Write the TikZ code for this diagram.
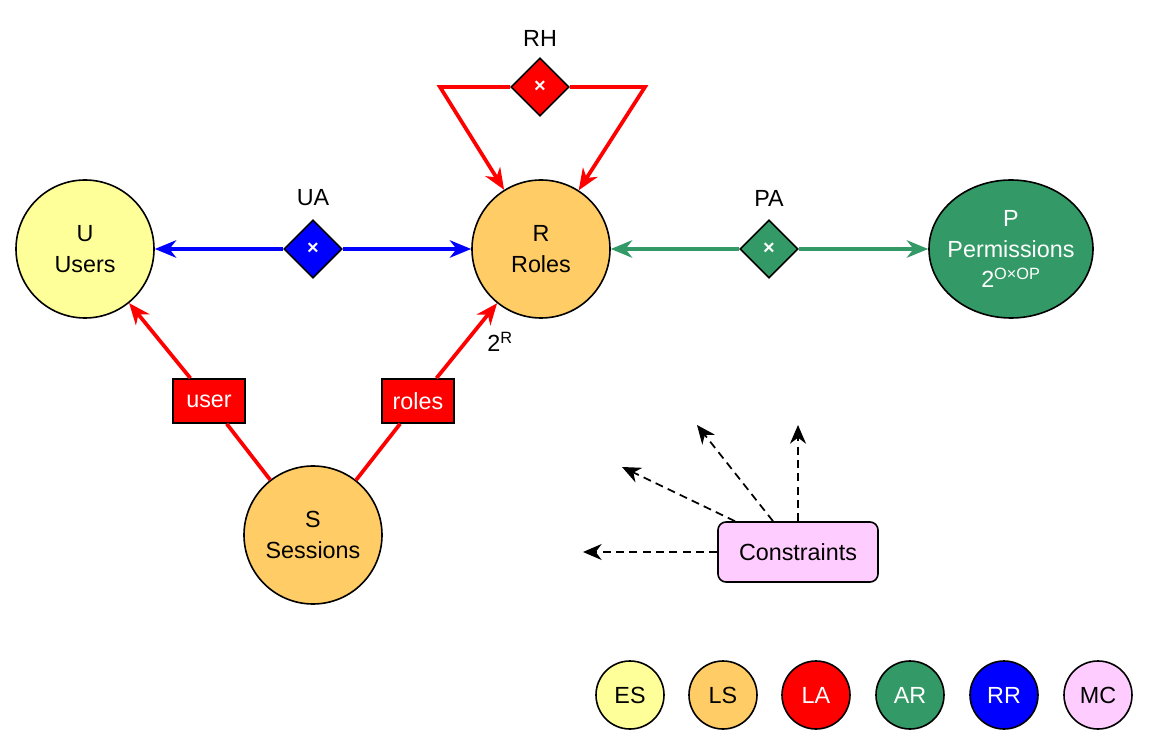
\documentclass[tikz,border=0pt]{standalone}
\usepackage{fontspec}
\setmainfont{Liberation Sans}
\usetikzlibrary{shapes.geometric,arrows.meta}
\definecolor{esc}{HTML}{FFFF99}
\definecolor{lsc}{HTML}{FFCC66}
\definecolor{lac}{HTML}{FF0000}
\definecolor{arc}{HTML}{339966}
\definecolor{rrc}{HTML}{0000FF}
\definecolor{mcc}{HTML}{FFCCFF}

\begin{document}
\begin{tikzpicture}[x=0.75pt,y=-0.75pt,
  font=\fontsize{17.5}{23}\selectfont,
  ent/.style={circle,draw,line width=1.2pt,minimum size=103.5pt,inner sep=0pt,align=center},
  rel/.style={diamond,draw,line width=1.2pt,minimum width=43.5pt,minimum height=43.5pt,inner sep=0pt,text=white,font=\bfseries\fontsize{15}{15}\selectfont},
  func/.style={rectangle,draw,line width=1.2pt,fill=lac,text=white,minimum width=54pt,minimum height=33pt,inner sep=0pt},
  leg/.style={circle,draw,line width=1.2pt,minimum size=51pt,inner sep=0pt},
  con/.style={line width=2.8pt},
  tip/.style={-{Stealth[length=16pt,width=13pt,inset=5pt]}},
  dtip/.style={-{Stealth[length=14pt,width=12pt,inset=4.5pt]},line width=1.3pt,dash pattern=on 6pt off 4pt}]
\useasboundingbox (0,0) rectangle (1150,748);

% entities
\node[ent,fill=esc] (U) at (85,249) {U\\Users};
\node[ent,fill=lsc] (R) at (541,249) {R\\Roles};
\node[ent,fill=lsc] (S) at (313,535) {S\\Sessions};
\node[ellipse,draw,line width=1.2pt,fill=arc,text=white,minimum width=123pt,minimum height=103.5pt,inner xsep=-6pt,inner ysep=0pt,align=center] (P) at (1011,249) {P\\Permissions\\2\textsuperscript{O×OP}};

% relations
\node[rel,fill=rrc] (UA) at (313,249) {×};
\node (UAlab) at (313,198) {UA};
\node[rel,fill=arc] (PA) at (769,249) {×};
\node (PAlab) at (769,198) {PA};
\node[rel,fill=lac] (RH) at (540,87) {×};
\node (RHlab) at (540,38) {RH};

\draw[con,rrc,tip] (UA) -- (U);
\draw[con,rrc,tip] (UA) -- (R);
\draw[con,arc,tip] (PA) -- (R);
\draw[con,arc,tip] (PA) -- (P);

\coordinate (rhl) at (440,87);
\coordinate (rhr) at (645,87);
\draw[con,lac,tip,line join=miter] (RH.west) -- (rhl) -- (R);
\draw[con,lac,tip,line join=miter] (RH.east) -- (rhr) -- (R);

% session functions
\node[func] (user) at (209,401) {user};
\node[func] (roles) at (418,401) {roles};
\draw[con,lac] (S) -- (user);
\draw[con,lac,tip] (user) -- (U);
\draw[con,lac] (S) -- (roles);
\draw[con,lac,tip] (roles) -- (R);
\node (pow) at (500,342) {2\textsuperscript{R}};

% constraints
\node[rectangle,draw,line width=1.2pt,rounded corners=6pt,fill=mcc,minimum width=120pt,minimum height=45pt] (C) at (798,552) {Constraints};
\coordinate (c1) at (583,552);
\coordinate (c2) at (622,467);
\coordinate (c3) at (697,425);
\coordinate (c4) at (798,425);
\draw[dtip] (C.west) -- (c1);
\draw[dtip] ([xshift=-47.25pt]C.north) -- (c2);
\draw[dtip] ([xshift=-18.75pt]C.north) -- (c3);
\draw[dtip] (C.north) -- (c4);

% legend
\foreach \x/\c/\t/\tc in {630/esc/ES/black,723/lsc/LS/black,816/lac/LA/white,910/arc/AR/white,1004/rrc/RR/white,1098/mcc/MC/black}
  \node[leg,fill=\c,text=\tc] (\t) at (\x,695) {\t};
\end{tikzpicture}
\end{document}
